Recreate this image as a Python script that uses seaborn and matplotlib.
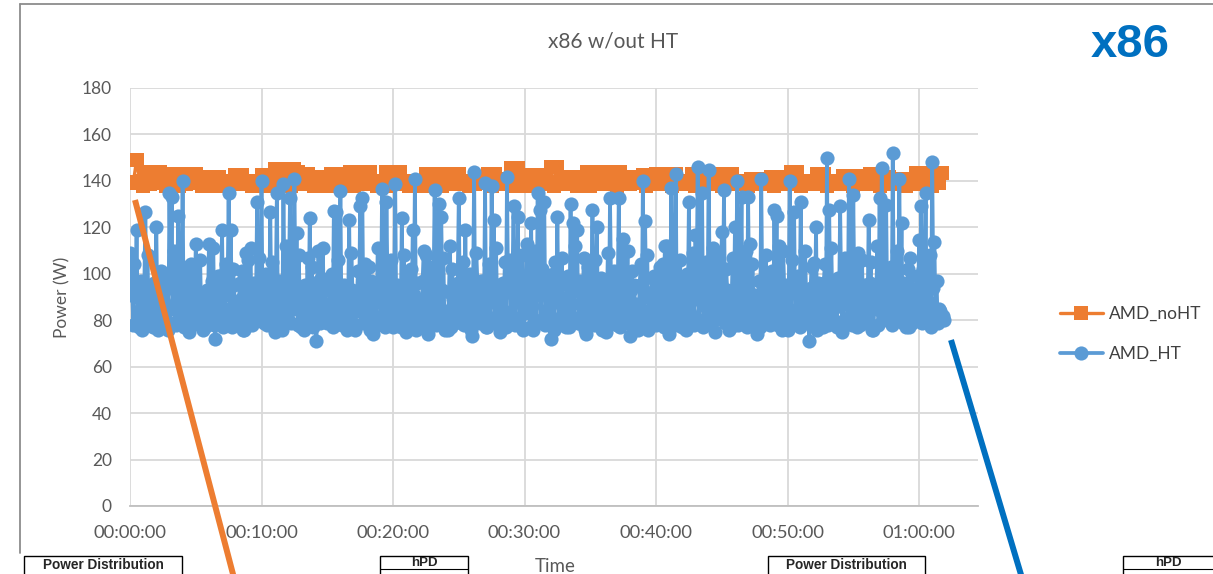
import numpy as np
import pandas as pd
import seaborn as sns
import matplotlib
matplotlib.use("Agg")
import matplotlib.pyplot as plt
from matplotlib.lines import Line2D
from matplotlib.patches import Rectangle
from matplotlib.ticker import FuncFormatter, MultipleLocator

# ---- data -------------------------------------------------------------
noht_step_s = 15  # logger interval for the no-HT run (seconds)
ht_step_s = 5     # logger interval for the HT run (seconds)

amd_noht = [
    139.5, 139, 149, 140, 138, 144, 138.5, 144, 139, 144,
    143, 138, 143, 139, 140, 138, 143, 138.5, 143, 139,
    143, 141.8, 138, 141.8, 139, 141.8, 138, 141.8, 139, 140,
    138, 140, 142.5, 138.5, 142.5, 139, 140, 138, 140, 139,
    142.5, 138, 142.5, 139, 145, 138.5, 145, 139, 145, 138,
    145, 144, 143, 138.5, 143, 141.5, 138, 141.5, 139, 141.5,
    138, 143, 139, 143, 138.5, 143, 140, 144, 138, 144,
    139, 144, 138.5, 144, 140, 138, 140, 139, 144, 138,
    144, 139, 144, 138.5, 140, 138, 140, 139, 140, 138,
    143, 138.5, 143, 139, 143, 138, 143, 139, 143, 138.5,
    143, 139, 140, 138, 140, 138.5, 140, 139, 140, 143,
    138, 143, 139, 141, 138.5, 141, 145.5, 138, 145.5, 139,
    142.5, 138, 141.5, 139, 142.5, 138.5, 141.5, 139, 146, 138,
    146, 141.5, 138.5, 141.5, 139, 141.5, 138, 140, 139, 144,
    138, 144, 139, 144, 138.5, 142.5, 139, 144, 138, 144,
    139, 141.5, 138.5, 141.5, 139, 141.5, 142.5, 138, 142.5, 139,
    143, 138.5, 143, 139, 143, 138, 143, 139, 140, 138.5,
    140, 143, 138, 143, 139, 143, 138.5, 143, 139, 143,
    138, 143, 139, 143, 138.5, 140, 139, 140, 138, 141,
    139, 141, 138.5, 141, 139, 141.5, 138, 141.5, 139, 141.5,
    138.5, 144, 139, 144, 138, 140, 139, 140, 138.5, 143,
    139, 143, 138, 140, 139, 140, 138.5, 142, 139, 142,
    138, 142, 139, 142, 138.5, 143, 139, 143, 138, 141.5,
    139, 141.5, 138.5, 141, 139, 141, 138, 141, 139, 143.5,
    138.5, 143.5, 139, 143.5, 138, 143.5, 139, 143.5,
]

amd_ht = [
    109, 98, 93, 78, 104, 90, 119, 84, 77, 81, 97, 76, 84, 92, 126.6,
    88, 108, 80, 79, 95, 88, 77, 96, 86, 120, 82, 76, 91, 101, 79,
    82, 88, 97, 80, 95, 76, 134.8, 94, 133, 85, 110, 79, 78, 93, 125,
    81, 90, 87, 140, 77, 86, 96, 103, 82, 75, 89, 104, 78, 98, 84,
    113, 79, 80, 92, 106, 83, 91, 76, 77, 90, 93, 81, 113, 86, 84,
    97, 111, 78, 72, 88, 99, 80, 99, 94, 119, 77, 81, 85, 104, 91,
    135, 84, 119, 77, 102, 95, 78, 82, 88, 79, 96, 89, 101, 76, 76,
    93, 109, 81, 106, 87, 111, 78, 94, 96, 83, 90, 131, 80, 107, 86,
    140, 81, 79, 94, 100, 78, 92, 87, 126.6, 83, 105, 77, 75, 91, 135,
    80, 97, 95, 85, 76, 138.6, 88, 112, 82, 80, 97, 132.6, 79, 99, 85,
    141, 90, 117.5, 78, 108, 86, 77, 93, 94, 76, 95, 84, 107, 80, 124,
    89, 103, 77, 82, 96, 71, 83, 110, 79, 98, 92, 111, 81, 96, 87,
    79, 83, 87, 96, 100, 77, 127, 88, 126.6, 80, 106, 91, 135.6, 78, 84,
    95, 94, 82, 76, 86, 123, 79, 109, 93, 90, 76, 78, 89, 101, 84,
    129, 92, 132.6, 79, 104, 85, 81, 97, 103, 76, 97, 83, 74, 90, 89,
    78, 111, 94, 96, 81, 136.5, 87, 99, 77, 131, 95, 80, 82, 106, 88,
    77, 86, 138.6, 80, 95, 93, 86, 77, 124, 89, 108, 82, 75, 96, 99,
    79, 102, 84, 119, 91, 141, 76, 96, 88, 83, 81, 79, 97, 110, 78,
    108, 79, 74, 90, 103, 82, 88, 95, 136, 78, 98, 87, 130, 80, 124.4,
    93, 107, 76, 81, 84, 76, 92, 112, 77, 102, 89, 85, 81, 94, 96,
    132.6, 85, 79, 94, 105, 78, 119, 82, 90, 88, 100, 76, 73, 91, 144,
    80, 109, 96, 84, 79, 97, 86, 97, 83, 139, 77, 77, 93, 104, 81,
    138, 90, 123, 79, 111, 87, 82, 95, 75, 80, 96, 84, 105, 77, 141.7,
    92, 106, 82, 80, 97, 129, 78, 99, 88, 124.4, 81, 78, 94, 108, 76,
    94, 83, 113, 89, 95, 77, 122, 86, 76, 93, 110, 79, 135, 91, 127.5,
    80, 102, 96, 131, 78, 83, 85, 97, 82, 72, 94, 100, 76, 105, 88,
    124.4, 80, 81, 95, 107, 78, 88, 84, 77, 90, 99, 77, 130, 87, 122,
    81, 112, 93, 119, 79, 79, 97, 94, 83, 107, 76, 74, 89, 103, 82,
    86, 92, 127.5, 78, 106, 85, 120, 81, 80, 96, 98, 76, 96, 88, 75,
    83, 109, 79, 132.6, 94, 84, 80, 101, 87, 78, 91, 132.6, 77, 96, 84,
    115, 79, 82, 90, 110, 82, 73, 93, 101, 77, 95, 86, 87, 80, 76,
    95, 104, 78, 140, 84, 122.7, 91, 108, 76, 80, 89, 92, 81, 99, 97,
    78, 88, 85, 81, 103, 94, 104, 77, 112, 85, 112, 79, 74, 92, 137,
    82, 97, 96, 143, 78, 83, 87, 106, 80, 77, 93, 99, 76, 100, 86,
    131, 83, 81, 96, 109, 78, 116.7, 89, 146, 80, 94, 91, 135, 77, 79,
    86, 105, 82, 144.7, 94, 86, 79, 111, 88, 75, 84, 108, 95, 98, 81,
    118, 87, 136, 79, 102, 93, 82, 76, 77, 90, 107, 82, 120, 85, 140,
    78, 96, 97, 133, 80, 90, 88, 110, 77, 133, 92, 113, 83, 104, 86,
    79, 91, 74, 84, 97, 77, 141, 88, 84, 80, 108, 95, 97, 79, 78,
    86, 101, 82, 127.5, 93, 125, 78, 112, 89, 81, 76, 110, 94, 95, 81,
    76, 85, 140, 78, 106, 92, 126.6, 80, 83, 97, 99, 77, 131, 87, 79,
    83, 110, 90, 88, 79, 71, 94, 103, 81, 104.6, 86, 120, 76, 96, 93,
    85, 80, 77, 96, 104, 82, 150, 78, 127.5, 89, 111, 84, 80, 93, 94,
    77, 98, 86, 129, 91, 75, 79, 107, 95, 89, 81, 141, 87, 100, 78,
    134, 88, 82, 77, 109, 94, 78, 83, 106, 79, 95, 90, 86, 81, 123,
    96, 105, 76, 76, 85, 91, 92, 112, 78, 132.6, 84, 145.5, 80, 97, 89,
    129.6, 82, 80, 93, 103, 78, 152, 86, 84, 95, 110, 80, 141, 87, 122,
    79, 96, 91, 77, 84, 102, 77, 107, 94, 79, 81, 88, 90, 99, 83,
    114.5, 86, 129, 79, 102, 92, 134.8, 80, 81, 88, 108, 77,
    148, 94, 113.7, 83, 97, 79, 85, 84, 80, 81, 82, 80,
]

series_names = ["AMD_noHT", "AMD_HT"]
y_ticks = [0, 20, 40, 60, 80, 100, 120, 140, 160, 180]
x_tick_step_s = 600
x_max_s = 3869

# ---- figure -----------------------------------------------------------
W, H = 1213, 574
DPI = 100


def fx(px):
    return px / W


def fy(py):
    return 1 - py / H


sns.set_style("white")
plt.rcParams["font.family"] = ["Lato", "DejaVu Sans"]

ORANGE = "#ED7D31"
BLUE = "#5B9BD5"
DARK_BLUE = "#0070C0"
GRID = "#D9D9D9"
TXT = "#595959"
BOLD_FONT = ["Liberation Sans", "DejaVu Sans"]

fig = plt.figure(figsize=(W / DPI, H / DPI), dpi=DPI)
fig.patch.set_facecolor("white")

ax = fig.add_axes([fx(130), fy(506), fx(978) - fx(130), fy(88) - fy(506)])

df = pd.concat([
    pd.DataFrame({"t": np.arange(len(amd_noht)) * noht_step_s,
                  "power": amd_noht, "series": series_names[0]}),
    pd.DataFrame({"t": np.arange(len(amd_ht)) * ht_step_s,
                  "power": amd_ht, "series": series_names[1]}),
], ignore_index=True)

sns.lineplot(data=df[df.series == series_names[0]], x="t", y="power",
             color=ORANGE, marker="s", markersize=9.8, mew=0, linewidth=2.4,
             estimator=None, sort=False, ax=ax, label=series_names[0])
sns.lineplot(data=df[df.series == series_names[1]], x="t", y="power",
             color=BLUE, marker="o", markersize=10.2, mew=0, linewidth=2.7,
             estimator=None, sort=False, ax=ax, label=series_names[1])

ax.set_xlim(0, x_max_s)
ax.set_ylim(0, 180)
ax.set_yticks(y_ticks)
ax.xaxis.set_major_locator(MultipleLocator(x_tick_step_s))


def hms(v, _pos):
    v = int(round(v))
    return f"{v // 3600:02d}:{(v % 3600) // 60:02d}:{v % 60:02d}"


ax.xaxis.set_major_formatter(FuncFormatter(hms))
ax.grid(True, color=GRID, linewidth=1.3)
ax.set_axisbelow(True)
for side in ["top", "right", "left"]:
    ax.spines[side].set_visible(False)
ax.spines["bottom"].set_color("#BFBFBF")
ax.spines["bottom"].set_linewidth(1.3)
ax.tick_params(axis="both", length=0, labelsize=12.5, labelcolor=TXT)
ax.tick_params(axis="x", pad=14, labelsize=13.2)
ax.tick_params(axis="y", pad=13)
ax.set_xlabel("")
ax.set_ylabel("")

handles, labels = ax.get_legend_handles_labels()
ax.legend(handles, labels, loc="center left",
          bbox_to_anchor=(fx(1044), fy(334)), bbox_transform=fig.transFigure,
          frameon=False, fontsize=12.5, handlelength=2.5, handletextpad=0.35,
          labelspacing=1.35, labelcolor="#404040")

# titles and axis labels
fig.text(fx(613), fy(42), "x86 w/out HT", ha="center", va="center",
         fontsize=15, color=TXT)
fig.text(fx(62), fy(297), "Power (W)", ha="center", va="center",
         rotation=90, fontsize=12.5, color=TXT)
fig.text(fx(555), fy(566), "Time", ha="center", va="center",
         fontsize=13.5, color=TXT)
fig.text(fx(1130), fy(45), "x86", ha="center", va="center",
         fontsize=34, fontweight="bold", color=DARK_BLUE, family=BOLD_FONT)

# chart frame
fig.add_artist(Line2D([fx(20), fx(1213)], [fy(4), fy(4)], color="#8C8C8C", lw=1.3))
fig.add_artist(Line2D([fx(20), fx(20)], [fy(4), fy(553)], color="#8C8C8C", lw=1.3))

# callout strokes
fig.add_artist(Line2D([fx(135), fx(234)], [fy(200), fy(578)], color=ORANGE,
                      lw=4.3, solid_capstyle="butt"))
fig.add_artist(Line2D([fx(951), fx(1022)], [fy(340), fy(578)], color=DARK_BLUE,
                      lw=4.3, solid_capstyle="butt"))

# table header boxes along the bottom edge
boxes = [
    (24, 182, 103, "Power Distribution"),
    (380, 468, 424, "hPD"),
    (768, 925, 846, "Power Distribution"),
    (1123, 1230, 1168, "hPD"),
]
for x0, x1, xc, label in boxes:
    fig.add_artist(Rectangle((fx(x0), fy(580)), fx(x1) - fx(x0), fy(556) - fy(580),
                             transform=fig.transFigure, facecolor="white",
                             edgecolor="black", lw=1.0))
    if label == "hPD":
        fig.add_artist(Line2D([fx(x0), fx(x1)], [fy(569), fy(569)],
                              color="black", lw=0.8))
        fig.text(fx(xc), fy(562.5), label, ha="center", va="center",
                 fontsize=9.5, fontweight="bold", family=BOLD_FONT)
    else:
        fig.text(fx(xc), fy(565), label, ha="center", va="center",
                 fontsize=9.8, fontweight="bold", family=BOLD_FONT)

fig.savefig("out.png", dpi=DPI)
